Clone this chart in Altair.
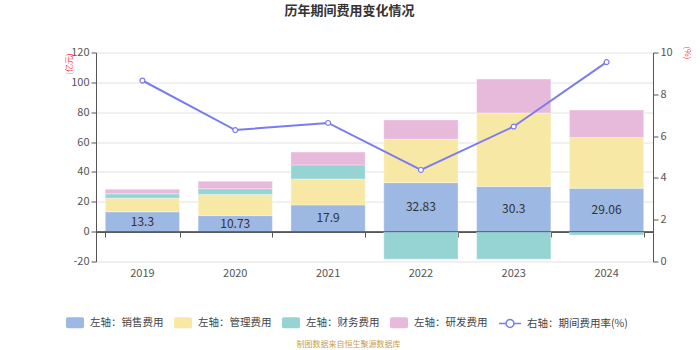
import altair as alt
import pandas as pd

years = ["2019", "2020", "2021", "2022", "2023", "2024"]
sales = [13.3, 10.73, 17.9, 32.83, 30.3, 29.06]
mgmt = [9.1, 14.2, 17.4, 29.1, 49.2, 34.0]
finance = [2.9, 3.8, 9.4, -18.5, -18.5, -2.3]
rd = [3.1, 5.1, 8.6, 12.9, 22.7, 18.4]
rate = [8.66, 6.29, 6.63, 4.38, 6.46, 9.54]
sales_labels = ["13.3", "10.73", "17.9", "32.83", "30.3", "29.06"]

series = ["左轴：销售费用", "左轴：管理费用", "左轴：财务费用", "左轴：研发费用"]
colors = ["#9cb8e3", "#f8e8a6", "#96d3d3", "#e7b9da"]
line_name = "右轴：期间费用率(%)"
line_color = "#7b7bf0"

FONT = "Noto Sans CJK SC"

rows = []
for i, y in enumerate(years):
    for k, vals in enumerate([sales, mgmt, finance, rd]):
        rows.append({"year": y, "series": series[k], "value": vals[i], "idx": k})
df = pd.DataFrame(rows)
df_lab = pd.DataFrame({"year": years, "sales": sales, "label": sales_labels})
df_line = pd.DataFrame({"year": years, "rate": rate, "s": [line_name] * len(years)})

rect_path = ("M-0.8,-0.61 L0.8,-0.61 Q1,-0.61 1,-0.41 L1,0.41 Q1,0.61 0.8,0.61 "
             "L-0.8,0.61 Q-1,0.61 -1,0.41 L-1,-0.41 Q-1,-0.61 -0.8,-0.61 Z")
line_path = ("M-1,0 L-0.36,0 M0.36,0 L1,0 M0.36,0 A0.36,0.36 0 1,1 -0.36,0 "
             "A0.36,0.36 0 1,1 0.36,0 Z")

xscale = alt.Scale(paddingInner=0.2, paddingOuter=0.1)
yleft = alt.Scale(domain=[-20, 120], nice=False, zero=False)

bars = alt.Chart(df).mark_bar(stroke="white", strokeWidth=1, strokeOpacity=0.35).encode(
    x=alt.X("year:N", sort=years, scale=xscale,
            axis=alt.Axis(orient="bottom", labels=False, domain=True, ticks=True,
                          tickBand="extent", offset=-29.5, domainColor="#555",
                          tickColor="#555", tickSize=5, title=None, grid=False)),
    y=alt.Y("value:Q", stack="zero", scale=yleft,
            axis=alt.Axis(orient="left", values=list(range(-20, 121, 20)), grid=True,
                          gridColor="#e2e2e2", labelExpr="'' + datum.value",
                          domainColor="#555", tickColor="#555", tickSize=5, labelPadding=2,
                          labelFont=FONT, labelFontSize=11, labelColor="#555",
                          title="(亿元)", titleColor="#ff3b3b", titleFont=FONT,
                          titleFontSize=8, titleFontWeight="normal", titleAngle=-90,
                          titleX=-27, titleY=11, titleAlign="center",
                          titleBaseline="middle")),
    color=alt.Color("series:N", sort=series,
                    scale=alt.Scale(domain=series, range=colors),
                    legend=alt.Legend(title=None, orient="none", direction="horizontal",
                                      legendX=-30, legendY=261, symbolType=rect_path,
                                      symbolSize=324, symbolStrokeWidth=0,
                                      labelFont=FONT, labelFontSize=10.5,
                                      labelColor="#444", labelOffset=6,
                                      columnPadding=10, padding=0)),
    order=alt.Order("idx:Q"),
)

zero_rule = alt.Chart(pd.DataFrame({"z": [0]})).mark_rule(
    color="#555", strokeWidth=1
).encode(y=alt.Y("z:Q", scale=yleft, axis=None))

text = alt.Chart(df_lab).transform_calculate(mid="datum.sales / 2").mark_text(
    font=FONT, fontSize=12, color="#333"
).encode(
    x=alt.X("year:N", sort=years, scale=xscale, axis=None),
    y=alt.Y("mid:Q", scale=yleft, axis=None),
    text="label:N",
)

line = alt.Chart(df_line).mark_line(
    strokeWidth=2,
    point=alt.OverlayMarkDef(filled=False, fill="white", size=24, strokeWidth=1.2),
).encode(
    x=alt.X("year:N", sort=years, scale=xscale,
            axis=alt.Axis(orient="bottom", domain=False, ticks=False, labelPadding=6,
                          labelFont=FONT, labelFontSize=11, labelColor="#555",
                          grid=False, labelAngle=0,
                          title="制图数据来自恒生聚源数据库", titleFont=FONT,
                          titleFontSize=8, titleFontWeight="normal",
                          titleColor="#c9a04a", titleX=252, titleY=82.5,
                          titleAlign="center", titleBaseline="middle")),
    y=alt.Y("rate:Q", scale=alt.Scale(domain=[0, 10], nice=False),
            axis=alt.Axis(orient="right", values=[0, 2, 4, 6, 8, 10], grid=False,
                          domainColor="#555", tickColor="#555", tickSize=5,
                          labelPadding=2, labelFont=FONT, labelFontSize=11,
                          labelColor="#555", title="(%)", titleColor="#ff3b3b",
                          titleFont=FONT, titleFontSize=8, titleFontWeight="normal",
                          titleAngle=90, titleX=33, titleY=0, titleAlign="center",
                          titleBaseline="middle")),
    stroke=alt.Stroke("s:N", scale=alt.Scale(domain=[line_name], range=[line_color]),
                      legend=alt.Legend(title=None, orient="none", direction="horizontal",
                                        legendX=402, legendY=259, symbolType=line_path,
                                        symbolSize=484, symbolFillColor="white",
                                        symbolStrokeWidth=1.5, labelFont=FONT,
                                        labelFontSize=10.5, labelColor="#444",
                                        labelOffset=5, padding=0)),
)

chart = alt.layer(bars, zero_rule, text, line).resolve_scale(
    y="independent", stroke="independent", color="independent"
).resolve_axis(x="independent", y="independent").properties(
    width=557, height=209,
    autosize=alt.AutoSizeParams(type="none"),
    padding={"left": 96, "top": 52.5, "right": 47, "bottom": 88.5},
    title=alt.TitleParams("历年期间费用变化情况", font=FONT, fontSize=13,
                          fontWeight="bold", color="#333", anchor="middle",
                          frame="group", dx=-25, offset=28),
).configure_view(stroke=None)

chart.save("out.html", embed_options={"renderer": "svg", "actions": False})
